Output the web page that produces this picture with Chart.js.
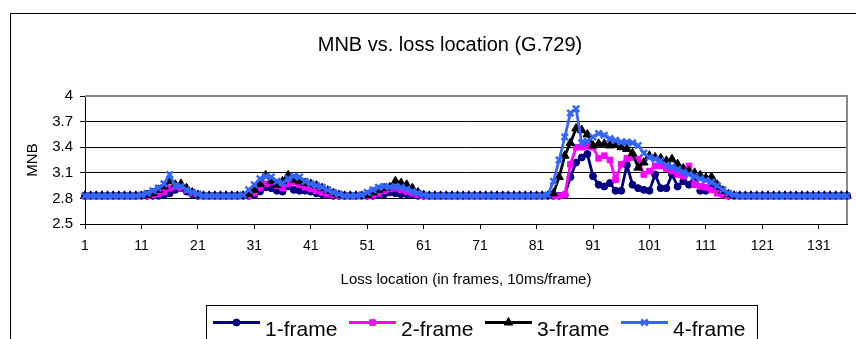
<!DOCTYPE html>
<html><head><meta charset="utf-8">
<script src="https://cdn.jsdelivr.net/npm/chart.js@4.4.1/dist/chart.umd.min.js"></script>
<style>html,body{margin:0;padding:0;background:#fff}#wrap{width:856px;height:339px;position:relative}</style>
</head><body><div id="wrap"><canvas id="c" width="856" height="339"></canvas></div>
<script>
const frames = Array.from({length:136}, (_, i) => String(i + 1));
const xTickLabels = ['1','11','21','31','41','51','61','71','81','91','101','111','121','131'];
const yTicks = [2.5, 2.8, 3.1, 3.4, 3.7, 4];
const seriesNames = ['1-frame','2-frame','3-frame','4-frame'];

const oneFrame = [
2.83,2.83,2.83,2.83,2.83,2.83,2.83,2.83,2.83,2.83,
2.83,2.83,2.83,2.83,2.84,2.86,2.90,2.92,2.88,2.85,
2.83,2.83,2.83,2.83,2.83,2.83,2.83,2.83,2.83,2.83,
2.84,2.88,2.93,2.92,2.89,2.88,2.94,2.90,2.89,2.89,
2.88,2.86,2.85,2.84,2.83,2.83,2.83,2.83,2.83,2.83,
2.83,2.83,2.84,2.85,2.87,2.86,2.85,2.85,2.84,2.83,
2.83,2.83,2.83,2.83,2.83,2.83,2.83,2.83,2.83,2.83,
2.83,2.83,2.83,2.83,2.83,2.83,2.83,2.83,2.83,2.83,
2.83,2.83,2.83,2.83,2.83,2.84,3.05,3.22,3.28,3.32,
3.06,2.96,2.94,2.98,2.89,2.89,3.19,2.96,2.92,2.90,
2.89,3.08,2.92,2.92,3.08,2.94,3.00,2.96,3.06,2.89,
2.89,2.92,2.90,2.85,2.83,2.83,2.83,2.83,2.83,2.83,
2.83,2.83,2.83,2.83,2.83,2.83,2.83,2.83,2.83,2.83,
2.83,2.83,2.83,2.83,2.83,2.83];

const twoFrame = [
2.83,2.83,2.83,2.83,2.83,2.83,2.83,2.83,2.83,2.83,
2.83,2.83,2.84,2.85,2.88,2.92,2.94,2.92,2.90,2.86,
2.84,2.83,2.83,2.83,2.83,2.83,2.83,2.83,2.83,2.83,
2.86,2.92,2.97,2.99,2.95,2.92,2.97,2.99,2.96,2.93,
2.91,2.89,2.87,2.85,2.84,2.83,2.83,2.83,2.83,2.83,
2.83,2.84,2.86,2.89,2.91,2.92,2.90,2.88,2.86,2.84,
2.83,2.83,2.83,2.83,2.83,2.83,2.83,2.83,2.83,2.83,
2.83,2.83,2.83,2.83,2.83,2.83,2.83,2.83,2.83,2.83,
2.83,2.83,2.83,2.83,2.83,2.84,3.20,3.40,3.40,3.41,
3.40,3.27,3.30,3.25,3.02,3.20,3.27,3.28,3.26,3.08,
3.12,3.18,3.18,3.15,3.12,3.08,3.06,3.18,2.96,2.94,
2.93,2.90,2.86,2.84,2.83,2.83,2.83,2.83,2.83,2.83,
2.83,2.83,2.83,2.83,2.83,2.83,2.83,2.83,2.83,2.83,
2.83,2.83,2.83,2.83,2.83,2.83];

const threeFrame = [
2.83,2.83,2.83,2.83,2.83,2.83,2.83,2.83,2.83,2.83,
2.83,2.84,2.86,2.90,2.94,3.00,2.96,2.97,2.92,2.87,
2.84,2.83,2.83,2.83,2.83,2.83,2.83,2.83,2.83,2.85,
2.90,2.97,3.07,3.00,2.96,3.00,3.07,3.02,3.00,2.98,
2.97,2.95,2.92,2.89,2.86,2.84,2.83,2.83,2.83,2.83,
2.84,2.87,2.90,2.92,2.93,3.00,2.98,2.96,2.92,2.87,
2.84,2.83,2.83,2.83,2.83,2.83,2.83,2.83,2.83,2.83,
2.83,2.83,2.83,2.83,2.83,2.83,2.83,2.83,2.83,2.83,
2.83,2.83,2.83,2.86,3.05,3.30,3.45,3.62,3.60,3.55,
3.42,3.44,3.44,3.42,3.43,3.40,3.38,3.33,3.16,3.22,
3.30,3.28,3.27,3.24,3.26,3.20,3.15,3.12,3.10,3.07,
3.04,3.05,2.96,2.89,2.85,2.83,2.83,2.83,2.83,2.83,
2.83,2.83,2.83,2.83,2.83,2.83,2.83,2.83,2.83,2.83,
2.83,2.83,2.83,2.83,2.83,2.83];

const fourFrame = [
2.83,2.83,2.83,2.83,2.83,2.83,2.83,2.83,2.83,2.83,
2.84,2.86,2.89,2.92,2.97,3.08,2.95,2.94,2.90,2.87,
2.85,2.83,2.83,2.83,2.83,2.83,2.83,2.83,2.84,2.90,
2.96,3.03,3.06,3.05,3.00,2.98,3.03,3.06,3.05,3.00,
2.97,2.95,2.93,2.90,2.87,2.85,2.83,2.83,2.83,2.84,
2.87,2.90,2.93,2.94,2.93,2.94,2.93,2.91,2.88,2.86,
2.84,2.83,2.83,2.83,2.83,2.83,2.83,2.83,2.83,2.83,
2.83,2.83,2.83,2.83,2.83,2.83,2.83,2.83,2.83,2.83,
2.83,2.83,2.84,3.00,3.25,3.52,3.80,3.85,3.45,3.47,
3.52,3.56,3.54,3.50,3.48,3.46,3.46,3.45,3.42,3.33,
3.28,3.26,3.24,3.19,3.17,3.14,3.11,3.08,3.06,3.03,
3.01,2.99,2.95,2.90,2.86,2.84,2.83,2.83,2.83,2.83,
2.83,2.83,2.83,2.83,2.83,2.83,2.83,2.83,2.83,2.83,
2.83,2.83,2.83,2.83,2.83,2.83];

const FONT = "'Liberation Sans', Arial, sans-serif";
Chart.defaults.font.family = FONT;
Chart.defaults.color = '#000';

const styles = [
  {color:'#000080', pointStyle:'circle', radius:3.5, pbw:1},
  {color:'#FF00FF', pointStyle:'rect', radius:4, pbw:1},
  {color:'#000000', pointStyle:'triangle', radius:5, pbw:1},
  {color:'#3366FF', pointStyle:'crossRot', radius:4.5, pbw:2.5}
];
const seriesData = [oneFrame, twoFrame, threeFrame, fourFrame];

const datasets = seriesData.map((d, i) => ({
  label: seriesNames[i],
  data: d,
  borderColor: styles[i].color,
  backgroundColor: styles[i].color,
  pointBackgroundColor: styles[i].color,
  pointBorderColor: styles[i].color,
  pointStyle: styles[i].pointStyle,
  pointRadius: styles[i].radius,
  pointBorderWidth: styles[i].pbw,
  borderWidth: 2.8,
  tension: 0,
  fill: false,
  order: 3 - i
}));

const decor = {
  id: 'decor',
  beforeDatasetsDraw(chart) {
    const {ctx, chartArea: a} = chart;
    ctx.save();
    ctx.strokeStyle = '#888888';
    ctx.lineWidth = 2;
    ctx.beginPath();
    ctx.moveTo(a.left, a.top);
    ctx.lineTo(a.right, a.top);
    ctx.lineTo(a.right, a.bottom);
    ctx.stroke();
    ctx.restore();
  },
  afterDraw(chart) {
    const ctx = chart.ctx;
    ctx.save();
    ctx.strokeStyle = '#000';
    ctx.lineWidth = 1;
    ctx.strokeRect(10.5, 13.5, 1000, 1000);
    ctx.fillStyle = '#000';
    ctx.font = "20px " + FONT;
    ctx.textAlign = 'center';
    ctx.textBaseline = 'middle';
    ctx.fillText('MNB vs. loss location (G.729)', 450, 45);
    ctx.strokeRect(206.5, 305.5, 551, 100);
    ctx.textAlign = 'left';
    ctx.textBaseline = 'alphabetic';
    ctx.font = "21px " + FONT;
    seriesNames.forEach((name, i) => {
      const x0 = 213 + i * 136;
      const y = 322.5;
      const st = styles[i];
      ctx.strokeStyle = st.color;
      ctx.lineWidth = 2.8;
      ctx.beginPath();
      ctx.moveTo(x0, y);
      ctx.lineTo(x0 + 47, y);
      ctx.stroke();
      ctx.fillStyle = st.color;
      ctx.strokeStyle = st.color;
      ctx.lineWidth = st.pbw;
      Chart.helpers.drawPoint(ctx, {pointStyle: st.pointStyle, radius: st.radius, borderWidth: st.pbw, rotation: 0}, x0 + 23.5, y);
      ctx.fillStyle = '#000';
      ctx.fillText(name, x0 + 52, 336);
    });
    ctx.restore();
  }
};

new Chart(document.getElementById('c'), {
  type: 'line',
  data: { labels: frames, datasets },
  plugins: [decor],
  options: {
    responsive: false,
    animation: false,
    events: [],
    layout: { padding: { left: 0, right: 7, top: 96, bottom: 45 } },
    plugins: { legend: { display: false }, tooltip: { enabled: false }, title: { display: false } },
    scales: {
      x: {
        offset: false,
        grid: {
          drawOnChartArea: false, drawTicks: true, tickLength: 5, tickWidth: 1,
          tickColor: c => xTickLabels.includes(frames[c.index]) ? '#000' : 'rgba(0,0,0,0)'
        },
        border: { color: '#000', width: 1 },
        ticks: {
          autoSkip: false, maxRotation: 0, minRotation: 0, padding: 9, color: '#000',
          font: { size: 14 },
          callback: (v, i) => xTickLabels.includes(frames[i]) ? frames[i] : ''
        },
        title: { display: true, text: 'Loss location (in frames, 10ms/frame)', color: '#000', font: { size: 15 }, padding: { top: 0, bottom: 5 } },
        afterFit: s => { s.height = 70; }
      },
      y: {
        min: 2.5, max: 4,
        afterBuildTicks: s => { s.ticks = yTicks.map(v => ({ value: v })); },
        grid: {
          drawTicks: true, tickLength: 5, lineWidth: 1,
          color: c => (c.tick && c.tick.value === 4) ? 'rgba(0,0,0,0)' : '#000',
          tickColor: '#000'
        },
        border: { color: '#000', width: 1 },
        ticks: { padding: 7, color: '#000', font: { size: 15 }, callback: v => String(v) },
        title: { display: true, text: 'MNB', color: '#000', font: { size: 15 }, padding: { top: 24, bottom: 0 } },
        afterFit: s => { s.width = 85; }
      }
    }
  }
});
</script>
</body></html>
